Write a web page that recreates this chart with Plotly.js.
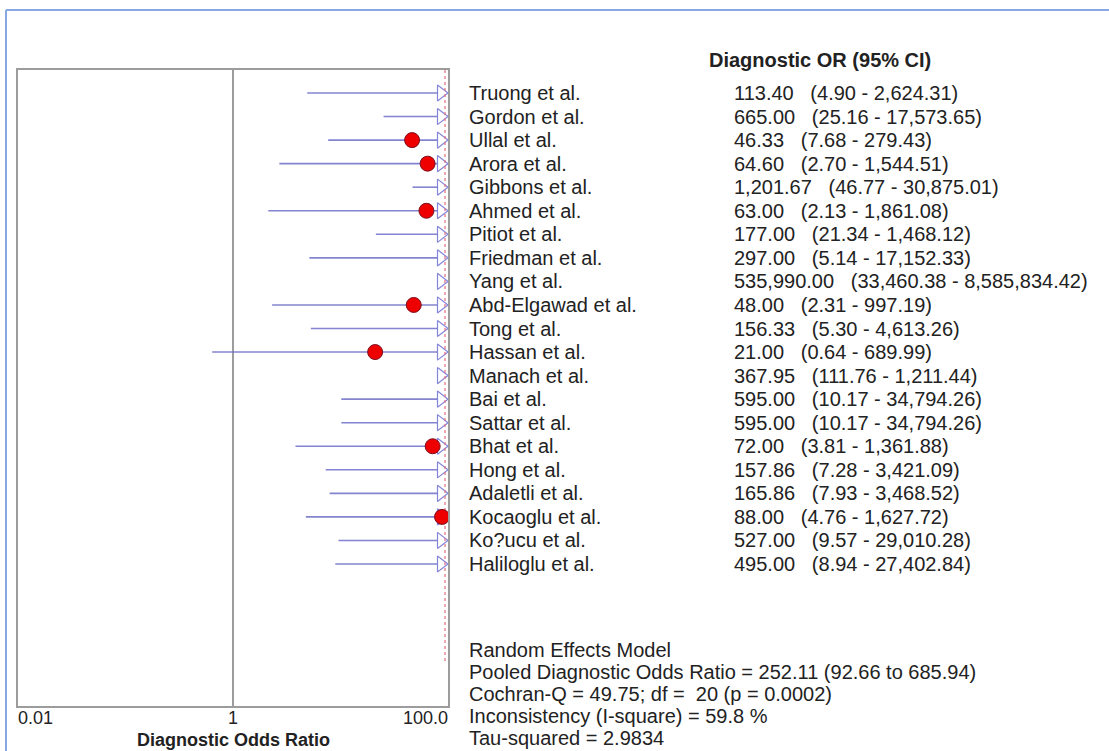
<!DOCTYPE html>
<html><head><meta charset="utf-8">
<script src="https://cdn.plot.ly/plotly-3.0.1.min.js"></script>
<style>html,body{margin:0;padding:0;background:#fff}#chart{width:1109px;height:751px}</style>
</head><body><div id="chart"></div>
<script>
// ---- data ----
const studies = ["Truong et al.","Gordon et al.","Ullal et al.","Arora et al.","Gibbons et al.","Ahmed et al.","Pitiot et al.","Friedman et al.","Yang et al.","Abd-Elgawad et al.","Tong et al.","Hassan et al.","Manach et al.","Bai et al.","Sattar et al.","Bhat et al.","Hong et al.","Adaletli et al.","Kocaoglu et al.","Ko?ucu et al.","Haliloglu et al."];
const dor = [113.40,665.00,46.33,64.60,1201.67,63.00,177.00,297.00,535990.00,48.00,156.33,21.00,367.95,595.00,595.00,72.00,157.86,165.86,88.00,527.00,495.00];
const ciLow = [4.90,25.16,7.68,2.70,46.77,2.13,21.34,5.14,33460.38,2.31,5.30,0.64,111.76,10.17,10.17,3.81,7.28,7.93,4.76,9.57,8.94];
const ciHigh = [2624.31,17573.65,279.43,1544.51,30875.01,1861.08,1468.12,17152.33,8585834.42,997.19,4613.26,689.99,1211.44,34794.26,34794.26,1361.88,3421.09,3468.52,1627.72,29010.28,27402.84];
const tickVals = [0.01, 1, 100];
const tickText = ["0.01", "1", "100.0"];
const pooledDOR = 252.11;
const columnTitle = "Diagnostic OR (95% CI)";
const axisTitle = "Diagnostic Odds Ratio";
const statsLines = ["Random Effects Model","Pooled Diagnostic Odds Ratio = 252.11 (92.66 to 685.94)","Cochran-Q = 49.75; df =  20 (p = 0.0002)","Inconsistency (I-square) = 59.8 %","Tau-squared = 2.9834"];

// ---- geometry ----
const W = 1109, H = 751;
const boxL = 18, boxR = 448, boxT = 70, boxB = 706;
const row0 = 93, rowStep = 23.55;
const logMin = Math.log10(tickVals[0]), logMax = Math.log10(tickVals[2]);
const pxPerDec = (boxR - boxL) / (logMax - logMin);
const xMax = Math.pow(10, logMax);
const arrowSize = 14;
const arrowX = Math.pow(10, logMax - (arrowSize / 2) / pxPerDec);
const lineEnd = Math.pow(10, logMax - (arrowSize * 0.75) / pxPerDec);
const pooledX = Math.pow(10, logMax - 3 / pxPerDec);
const yTop = -(row0 - boxT) / rowStep, yBot = (boxB - row0) / rowStep;
const pooledRow = studies.length + 3.2;
const FONT = "Liberation Sans, Arial, sans-serif";
const FS = 20;
const AFS = 17;
const txtColor = "#222222";
const px = v => v / W, py = v => 1 - v / H;
const fmt = v => v.toLocaleString("en-US", {minimumFractionDigits: 2, maximumFractionDigits: 2});

const idx = studies.map((_, i) => i);

// CI lines
const ciX = [], ciY = [];
idx.forEach(i => {
  if (ciLow[i] < lineEnd) {
    ciX.push(ciLow[i], Math.min(ciHigh[i], lineEnd), null);
    ciY.push(i, i, null);
  }
});

const traces = [
  {type: "scatter", mode: "lines", x: ciX, y: ciY,
   line: {color: "rgba(110,110,200,0.85)", width: 1.6}, hoverinfo: "skip", showlegend: false},
  {type: "scatter", mode: "markers",
   x: idx.map(i => ciHigh[i] > xMax ? arrowX : null), y: idx,
   marker: {symbol: "triangle-right-open", size: arrowSize, color: "rgba(120,120,215,0.9)", line: {width: 1.2}},
   hoverinfo: "skip", showlegend: false, cliponaxis: false},
  {type: "scatter", mode: "lines", x: [pooledX, pooledX], y: [yTop, pooledRow],
   line: {color: "#e07080", width: 1.2, dash: "dot"}, hoverinfo: "skip", showlegend: false},
  {type: "scatter", mode: "markers",
   x: idx.map(i => dor[i] <= xMax ? dor[i] : null), y: idx,
   marker: {symbol: "circle", size: 15, color: "#ee0000", line: {color: "#7a1020", width: 1}},
   hoverinfo: "skip", showlegend: false, cliponaxis: false}
];

const ann = [];
idx.forEach(i => {
  ann.push({xref: "paper", yref: "y", x: px(467), y: i, xanchor: "left", yanchor: "middle",
            text: studies[i], showarrow: false, font: {family: FONT, size: FS, color: txtColor}});
  ann.push({xref: "paper", yref: "y", x: px(732), y: i, xanchor: "left", yanchor: "middle",
            text: fmt(dor[i]) + "\u00a0\u00a0\u00a0(" + fmt(ciLow[i]) + " - " + fmt(ciHigh[i]) + ")",
            showarrow: false, font: {family: FONT, size: FS, color: txtColor}});
});
ann.push({xref: "paper", yref: "paper", x: px(707), y: py(60), xanchor: "left", yanchor: "middle",
          text: "<b>" + columnTitle + "</b>", showarrow: false, font: {family: FONT, size: FS, color: txtColor}});
statsLines.forEach((t, k) => {
  ann.push({xref: "paper", yref: "paper", x: px(467), y: py(650 + 22 * k), xanchor: "left", yanchor: "middle",
            text: t.replace(/  /g, " \u00a0"), showarrow: false, font: {family: FONT, size: FS, color: txtColor}});
});
const anchors = ["left", "center", "right"];
tickVals.forEach((v, k) => {
  ann.push({xref: "x", yref: "paper", x: Math.log10(v), y: py(718), xanchor: anchors[k], yanchor: "middle",
            text: tickText[k], showarrow: false, font: {family: FONT, size: 18, color: txtColor}, xshift: k === 0 ? -2 : (k === 2 ? 2 : 0)});
});
ann.push({xref: "x", yref: "paper", x: 0, y: py(740), xanchor: "center", yanchor: "middle",
          text: "<b>" + axisTitle + "</b>", showarrow: false, font: {family: FONT, size: AFS + 1, color: txtColor}, borderpad: 0});

const layout = {
  width: W, height: H,
  margin: {l: 0, r: 0, t: 0, b: 0, pad: 0},
  paper_bgcolor: "#fff", plot_bgcolor: "#fff",
  showlegend: false,
  xaxis: {type: "log", range: [logMin, logMax], domain: [px(boxL), px(boxR)],
          showline: true, mirror: true, linecolor: "#9c9c9c", linewidth: 2,
          tickmode: "array", tickvals: [1], showticklabels: false, ticks: "",
          showgrid: true, gridcolor: "#9c9c9c", gridwidth: 2, zeroline: false, fixedrange: true},
  yaxis: {range: [yBot, yTop], domain: [1 - boxB / H, 1 - boxT / H],
          showline: true, mirror: true, linecolor: "#9c9c9c", linewidth: 2,
          showticklabels: false, ticks: "", showgrid: false, zeroline: false, fixedrange: true},
  annotations: ann,
  shapes: [
    {type: "line", xref: "paper", yref: "paper", x0: px(6), x1: 1, y0: py(10), y1: py(10), line: {color: "#86a8e4", width: 2}},
    {type: "line", xref: "paper", yref: "paper", x0: px(6), x1: px(6), y0: py(10), y1: 0, line: {color: "#86a8e4", width: 2}}
  ]
};

Plotly.newPlot("chart", traces, layout, {staticPlot: true, displayModeBar: false});
</script>
</body></html>
